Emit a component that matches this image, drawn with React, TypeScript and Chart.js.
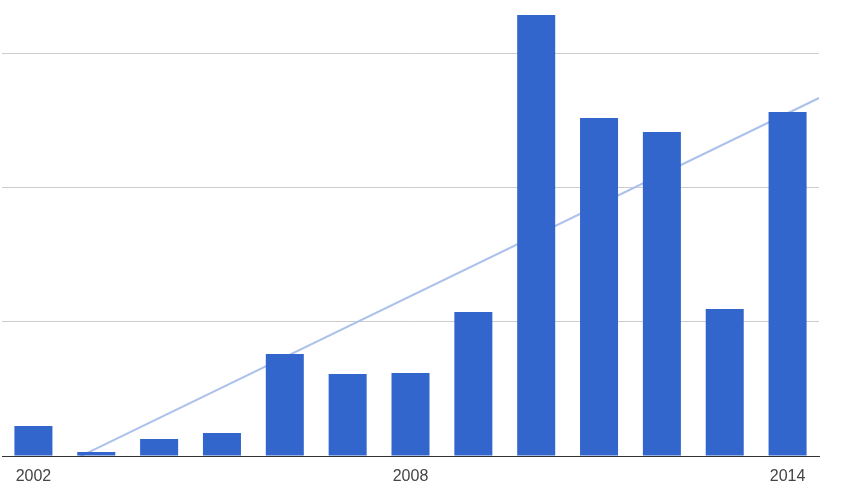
import React, { useEffect, useRef } from "react";
import { Chart, registerables } from "chart.js";

Chart.register(...registerables);

const years = [2002, 2003, 2004, 2005, 2006, 2007, 2008, 2009, 2010, 2011, 2012, 2013, 2014];
const values = [22.3, 3, 12.7, 17.1, 75.9, 61, 61.8, 107.2, 328.3, 251.6, 241.2, 109.4, 256.1];
const tickYears = [2002, 2008, 2014];
const trendX = [2001.5, 2014.5];
const trendY = [-28.5, 266.5];

export default function App() {
  const ref = useRef<HTMLCanvasElement>(null);
  useEffect(() => {
    if (!ref.current) return;
    const chart = new Chart(ref.current, {
      type: "bar",
      data: {
        datasets: [
          {
            type: "bar",
            data: years.map((y, i) => ({ x: y, y: values[i] })),
            backgroundColor: "#3366cc",
            barPercentage: 1,
            categoryPercentage: 0.605,
            order: 1,
          } as any,
          {
            type: "line",
            data: trendX.map((x, i) => ({ x, y: trendY[i] })),
            borderColor: "#adc2eb",
            borderWidth: 2,
            pointRadius: 0,
            fill: false,
            order: 2,
          } as any,
        ],
      },
      options: {
        animation: false,
        responsive: false,
        maintainAspectRatio: false,
        layout: { padding: { left: 2, right: 26, top: 6, bottom: -8 } },
        plugins: { legend: { display: false }, tooltip: { enabled: false } },
        scales: {
          x: {
            type: "linear",
            min: 2001.5,
            max: 2014.5,
            offset: false,
            afterBuildTicks: (axis: any) => {
              axis.ticks = tickYears.map((v) => ({ value: v }));
            },
            grid: { display: false, drawTicks: false },
            border: { display: true, color: "#333333", width: 1 },
            ticks: {
              padding: 13,
              color: "#444444",
              font: { family: "'Liberation Sans', Arial, sans-serif", size: 16, lineHeight: 1 },
              callback: (v: any) => String(v),
              autoSkip: false,
              maxRotation: 0,
            },
          },
          y: {
            min: 0,
            max: 335,
            afterBuildTicks: (axis: any) => {
              axis.ticks = [0, 100, 200, 300].map((v) => ({ value: v }));
            },
            grid: { color: "#cccccc", drawTicks: false, lineWidth: 1 },
            border: { display: false },
            ticks: { display: false },
          },
        },
      },
    });
    return () => chart.destroy();
  }, []);
  return (
    <div style={{ position: "absolute", left: 0, top: 0, width: 845, height: 490, background: "#fff" }}>
      <canvas ref={ref} width={845} height={490} style={{ width: 845, height: 490 }} />
    </div>
  );
}
